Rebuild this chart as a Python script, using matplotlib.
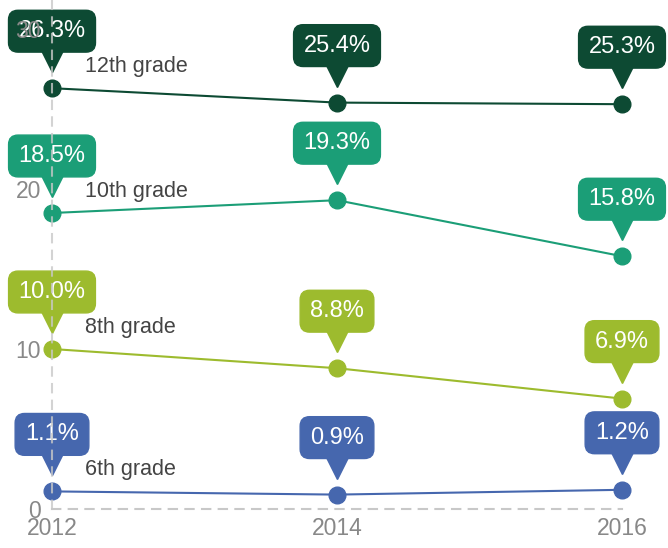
import matplotlib.pyplot as plt
import matplotlib.transforms as mtransforms

plt.rcParams['font.family'] = ['Liberation Sans', 'DejaVu Sans']

years = [2012, 2014, 2016]
grades = ["12th grade", "10th grade", "8th grade", "6th grade"]
grade12 = [26.3, 25.4, 25.3]
grade10 = [18.5, 19.3, 15.8]
grade8 = [10.0, 8.8, 6.9]
grade6 = [1.1, 0.9, 1.2]
series = [grade12, grade10, grade8, grade6]
colors = ["#0d4a33", "#1b9e77", "#9dbb2e", "#4667ae"]
yticks = [0, 10, 20, 30]

fig = plt.figure(figsize=(6.68, 5.48), dpi=100)
ax = fig.add_axes([52 / 668, 39 / 548, 570 / 668, 509 / 548])
ax.set_xlim(2012, 2016)
ax.set_ylim(0, 509 / 16)

for s in ["top", "right"]:
    ax.spines[s].set_visible(False)
for s in ["left", "bottom"]:
    ax.spines[s].set_color("#c8c8c8")
    ax.spines[s].set_linestyle((0, (4, 4)))
    ax.spines[s].set_linewidth(1.5)
ax.spines["left"].set_zorder(6)
ax.spines["left"].set_alpha(0.8)

ax.set_xticks(years)
ax.set_xticklabels([str(y) for y in years])
ax.set_yticks(yticks)
ax.tick_params(length=0, labelsize=16.5, labelcolor="#888888")
ax.tick_params(axis="x", pad=6)
ax.tick_params(axis="y", pad=8)
ax.yaxis.set_zorder(10)

# pointer triangle under each callout box
tri = mtransforms.offset_copy(ax.transData, fig=fig, x=0, y=27, units="dots")

for name, vals, c in zip(grades, series, colors):
    ax.plot(years, vals, color=c, lw=1.5, marker="o", markersize=12,
            clip_on=False, zorder=3)
    ax.plot(years, vals, linestyle="none", marker="v", markersize=16,
            color=c, transform=tri, clip_on=False, zorder=4)
    for x, v in zip(years, vals):
        ax.annotate(f"{v:.1f}%", xy=(x, v), xytext=(0, 57),
                    textcoords="offset pixels", ha="center", va="center",
                    fontsize=17, color="white", zorder=5,
                    bbox=dict(boxstyle="round,pad=0.42,rounding_size=0.4",
                              fc=c, ec=c))
    ax.annotate(name, xy=(years[0], vals[0]), xytext=(33, 22),
                textcoords="offset pixels", ha="left", va="center",
                fontsize=15.5, color="#444444", zorder=2)

fig.savefig("out.png", dpi=100)
